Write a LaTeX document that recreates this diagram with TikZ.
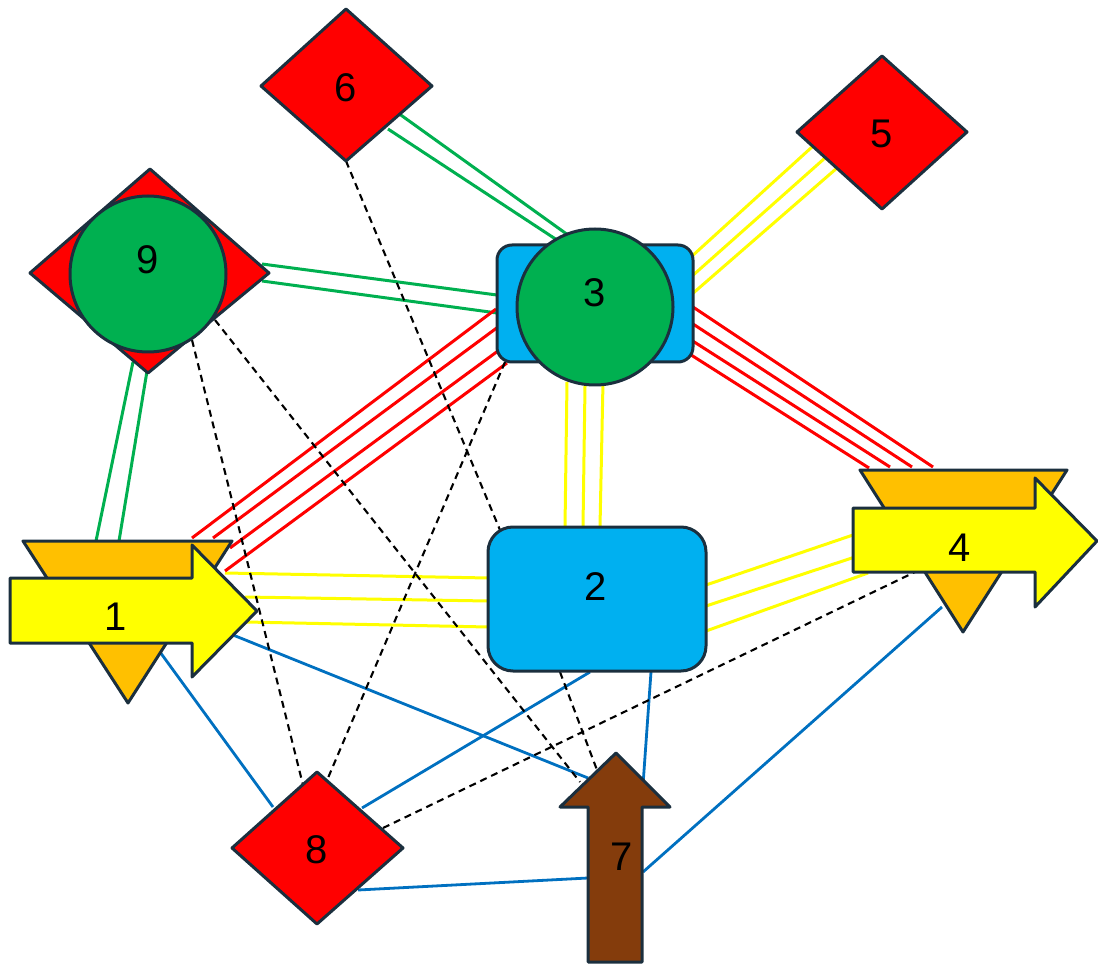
\documentclass[tikz,border=0pt]{standalone}
\usepackage{fontspec}
\setmainfont{Liberation Sans}
\usetikzlibrary{backgrounds}
\definecolor{outl}{HTML}{1B2F3E}
\definecolor{dred}{HTML}{FF0000}
\definecolor{dgreen}{HTML}{00B050}
\definecolor{dblue}{HTML}{00B0F0}
\definecolor{dorange}{HTML}{FFC000}
\definecolor{dyellow}{HTML}{FFFF00}
\definecolor{dbrown}{HTML}{843C0C}
\definecolor{lblue}{HTML}{0070C0}
\begin{document}
\begin{tikzpicture}[x=1pt,y=-1pt,
  body/.style={draw=outl,line width=3pt,line join=round},
  lbl/.style={font=\fontsize{40}{46}\selectfont,inner sep=0pt,text=black},
  gline/.style={draw=dgreen,line width=3pt},
  yline/.style={draw=dyellow,line width=3pt},
  rline/.style={draw=dred,line width=3pt},
  bline/.style={draw=lblue,line width=2.8pt},
  dline/.style={draw=black,line width=2.1pt,dash pattern=on 7pt off 5pt}]
\useasboundingbox (0,0) rectangle (1098,965);

% ---- shapes ----
% 6, 5, 8: diamonds
\path[body,fill=dred] (346,9) -- (432,86) -- (346,161) -- (261,86) -- cycle;
\path[body,fill=dred] (882,56) -- (967,132) -- (882,209) -- (797,132) -- cycle;
\path[body,fill=dred] (317,772) -- (403,848) -- (317,924) -- (232,848) -- cycle;
% 9: diamond with circle
\path[body,fill=dred] (150,169) -- (269,273) -- (148,373) -- (30,273) -- cycle;
\path[body,fill=dgreen] (148,274) circle[radius=78];
% 3: rounded box with circle
\path[body,fill=dblue,rounded corners=15pt] (497,245) rectangle (693,362);
\path[body,fill=dgreen] (595,307) circle[radius=78];
% 2: rounded box
\path[body,fill=dblue,rounded corners=25pt] (488,527) rectangle (706,671);
% 1: triangle under right arrow
\path[body,fill=dorange] (23,541) -- (232,541) -- (128,703) -- cycle;
\path[body,fill=dyellow] (10,578) -- (192,578) -- (192,545) -- (257,611) -- (192,677) -- (192,643) -- (10,643) -- cycle;
% 4: triangle under right arrow
\path[body,fill=dorange] (860,470) -- (1067,470) -- (963,632) -- cycle;
\path[body,fill=dyellow] (853,508) -- (1035,508) -- (1035,478) -- (1097,541) -- (1035,607) -- (1035,572) -- (853,572) -- cycle;
% 7: up arrow
\path[body,fill=dbrown] (616,753) -- (670,807) -- (642,807) -- (642,962) -- (588,962) -- (588,807) -- (560,807) -- cycle;

% ---- labels ----
\node[lbl] (n1) at (116,617) {1};
\node[lbl] (n2) at (596,587) {2};
\node[lbl] (n3) at (595,293) {3};
\node[lbl] (n4) at (960,548) {4};
\node[lbl] (n5) at (882,134) {5};
\node[lbl] (n6) at (346,88) {6};
\node[lbl] (n7) at (622,857) {7};
\node[lbl] (n8) at (317,850) {8};
\node[lbl] (n9) at (148,260) {9};

% ---- connectors ----
\begin{pgfonlayer}{background}
% green
\draw[gline] ([shift={(52,25)}]n6.center) -- ([shift={(-27,-58)}]n3.center);
\draw[gline] ([shift={(42,41)}]n6.center) -- ([shift={(-38,-53)}]n3.center);
\draw[gline] ([shift={(114,4)}]n9.center) -- ([shift={(-83,4)}]n3.center);
\draw[gline] ([shift={(114,21)}]n9.center) -- ([shift={(-98,20)}]n3.center);
\draw[gline] ([shift={(-15,102)}]n9.center) -- ([shift={(-20,-76)}]n1.center);
\draw[gline] ([shift={(0,105)}]n9.center) -- ([shift={(3,-76)}]n1.center);
% yellow
\draw[yline] ([shift={(-70,13)}]n5.center) -- ([shift={(96,-36)}]n3.center);
\draw[yline] ([shift={(-57,24)}]n5.center) -- ([shift={(96,-16)}]n3.center);
\draw[yline] ([shift={(-45,34)}]n5.center) -- ([shift={(96,2)}]n3.center);
\draw[yline] ([shift={(-28,89)}]n3.center) -- ([shift={(-31,-60)}]n2.center);
\draw[yline] ([shift={(-10,93)}]n3.center) -- ([shift={(-13,-60)}]n2.center);
\draw[yline] ([shift={(8,89)}]n3.center) -- ([shift={(4,-60)}]n2.center);
\draw[yline] ([shift={(109,-44)}]n1.center) -- ([shift={(-108,-9)}]n2.center);
\draw[yline] ([shift={(129,-20)}]n1.center) -- ([shift={(-108,14)}]n2.center);
\draw[yline] ([shift={(130,5)}]n1.center) -- ([shift={(-108,40)}]n2.center);
\draw[yline] ([shift={(110,-2)}]n2.center) -- ([shift={(-107,-13)}]n4.center);
\draw[yline] ([shift={(110,19)}]n2.center) -- ([shift={(-105,9)}]n4.center);
\draw[yline] ([shift={(110,44)}]n2.center) -- ([shift={(-92,25)}]n4.center);
% red
\draw[rline] ([shift={(98,14)}]n3.center) -- ([shift={(-27,-81)}]n4.center);
\draw[rline] ([shift={(98,31)}]n3.center) -- ([shift={(-48,-81)}]n4.center);
\draw[rline] ([shift={(93,45)}]n3.center) -- ([shift={(-70,-81)}]n4.center);
\draw[rline] ([shift={(93,60)}]n3.center) -- ([shift={(-91,-80)}]n4.center);
\draw[rline] ([shift={(-99,16)}]n3.center) -- ([shift={(76,-79)}]n1.center);
\draw[rline] ([shift={(-97,34)}]n3.center) -- ([shift={(97,-79)}]n1.center);
\draw[rline] ([shift={(-93,55)}]n3.center) -- ([shift={(114,-69)}]n1.center);
\draw[rline] ([shift={(-88,70)}]n3.center) -- ([shift={(109,-46)}]n1.center);
% blue
\draw[bline] ([shift={(44,35)}]n1.center) -- ([shift={(-44,-43)}]n8.center);
\draw[bline] ([shift={(117,18)}]n1.center) -- ([shift={(-34,-79)}]n7.center);
\draw[bline] ([shift={(-6,85)}]n2.center) -- ([shift={(45,-42)}]n8.center);
\draw[bline] ([shift={(55,85)}]n2.center) -- ([shift={(21,-72)}]n7.center);
\draw[bline] ([shift={(41,40)}]n8.center) -- ([shift={(-34,21)}]n7.center);
\draw[bline] ([shift={(-18,59)}]n4.center) -- ([shift={(21,15)}]n7.center);
% dashed
\draw[dline] ([shift={(44,80)}]n9.center) -- ([shift={(-14,-65)}]n8.center);
\draw[dline] ([shift={(67,60)}]n9.center) -- ([shift={(-42,-75)}]n7.center);
\draw[dline] ([shift={(0,73)}]n6.center) -- ([shift={(-96,-57)}]n2.center);
\draw[dline] ([shift={(-90,69)}]n3.center) -- ([shift={(8,-65)}]n8.center);
\draw[dline] ([shift={(-36,85)}]n2.center) -- ([shift={(-22,-79)}]n7.center);
\draw[dline] ([shift={(66,-22)}]n8.center) -- ([shift={(-45,24)}]n4.center);
\end{pgfonlayer}
\end{tikzpicture}
\end{document}
